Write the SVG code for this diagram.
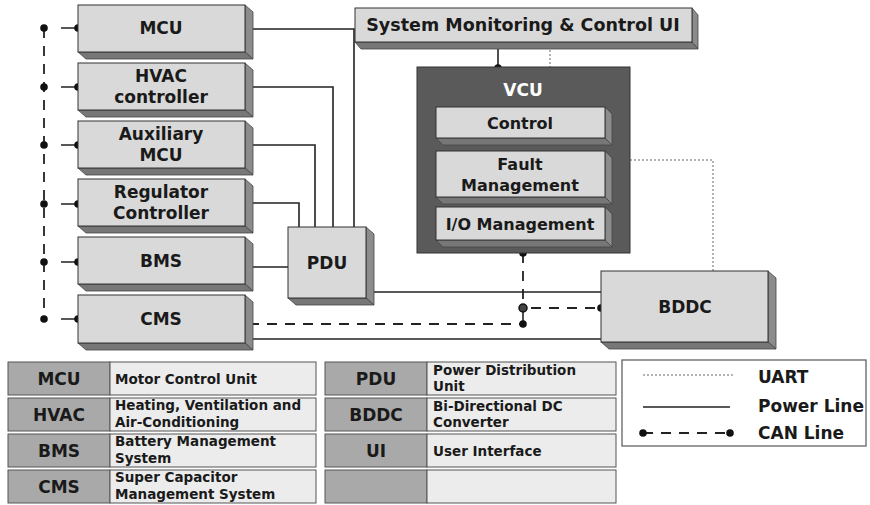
<svg xmlns="http://www.w3.org/2000/svg" width="870" height="505" viewBox="0 0 870 505">
<style>
text{font-family:"DejaVu Sans","Liberation Sans",sans-serif;font-weight:bold;fill:#1a1a1a;text-anchor:middle;dominant-baseline:central}
.face{fill:#d9d9d9;stroke:#333;stroke-width:1}
.side{fill:#8c8c8c;stroke:#444;stroke-width:0.8}
.bot{fill:#777;stroke:#444;stroke-width:0.8}
.lbl{font-size:17px}
.sm{font-size:13.5px;text-anchor:start}
.pw{fill:none;stroke:#222;stroke-width:1.6}
.can{fill:none;stroke:#222;stroke-width:1.8;stroke-dasharray:10 8}
.uart{fill:none;stroke:#999;stroke-width:1.5;stroke-dasharray:2 2}
.dot{fill:#111}
.ab{fill:#a9a9a9;stroke:#555;stroke-width:1}
.ds{fill:#ececec;stroke:#555;stroke-width:1}
</style>
<rect width="870" height="505" fill="#fff"/>

<g id="connectors">
  <!-- power lines -->
  <path class="pw" d="M253,29 H354 V227"/>
  <path class="pw" d="M253,87 H333 V227"/>
  <path class="pw" d="M253,145 H315 V227"/>
  <path class="pw" d="M253,203 H299 V227"/>
  <path class="pw" d="M253,267 H288"/>
  <path class="pw" d="M374,292 H601"/>
  <path class="pw" d="M253,339 H601"/>
  <!-- CAN bus left -->
  <path class="can" d="M44,28 V319"/>
  <path class="pw" stroke-width="1.8" d="M61,28 H78 M61,87 H78 M61,145 H78 M61,204 H78 M61,262 H78 M61,319 H78"/>
  <g class="dot">
    <circle cx="44" cy="28" r="3.8"/><circle cx="78" cy="28" r="3.8"/>
    <circle cx="44" cy="87" r="3.8"/><circle cx="78" cy="87" r="3.8"/>
    <circle cx="44" cy="145" r="3.8"/><circle cx="78" cy="145" r="3.8"/>
    <circle cx="44" cy="204" r="3.8"/><circle cx="78" cy="204" r="3.8"/>
    <circle cx="44" cy="262" r="3.8"/><circle cx="78" cy="262" r="3.8"/>
    <circle cx="44" cy="319" r="3.8"/><circle cx="78" cy="319" r="3.8"/>
  </g>
  <!-- CAN UI-VCU -->
  <path class="pw" stroke-width="1.8" d="M498,42 V68"/>
  <circle class="dot" cx="498" cy="42" r="3.8"/>
  <circle class="dot" cx="498" cy="68" r="3.8"/>
  <!-- CAN VCU-BDDC-CMS -->
  <path class="can" d="M523,253 V308"/>
  <path class="can" d="M531,308 H601"/>
  <path class="pw" stroke-width="1.8" d="M523,308 V324"/>
  <path class="can" d="M249,324 H523"/>
  <circle class="dot" cx="523" cy="253" r="3.8"/>
  <circle cx="523" cy="308" r="4" fill="#444" stroke="#111" stroke-width="1.5"/>
  <circle class="dot" cx="601" cy="308" r="3.8"/>
  <circle class="dot" cx="523" cy="324" r="3.8"/>
  <circle class="dot" cx="249" cy="324" r="3.8"/>
  <!-- UART -->
  <path class="uart" d="M550,42 V67"/>
  <path class="uart" d="M630,160 H713 V271"/>
</g>

<g id="mcu">
  <polygon class="side" points="245,5 253,12 253,59 245,52"/>
  <polygon class="bot" points="78,52 245,52 253,59 86,59"/>
  <rect class="face" x="78" y="5" width="167" height="47"/>
  <text class="lbl" x="161" y="28">MCU</text>
</g>
<g id="hvac">
  <polygon class="side" points="245,63 253,70 253,117 245,110"/>
  <polygon class="bot" points="78,110 245,110 253,117 86,117"/>
  <rect class="face" x="78" y="63" width="167" height="47"/>
  <text class="lbl" x="161" y="76">HVAC</text>
  <text class="lbl" x="161" y="97">controller</text>
</g>
<g id="aux">
  <polygon class="side" points="245,121 253,128 253,175 245,168"/>
  <polygon class="bot" points="78,168 245,168 253,175 86,175"/>
  <rect class="face" x="78" y="121" width="167" height="47"/>
  <text class="lbl" x="161" y="134">Auxiliary</text>
  <text class="lbl" x="161" y="155">MCU</text>
</g>
<g id="reg">
  <polygon class="side" points="245,179 253,186 253,233 245,226"/>
  <polygon class="bot" points="78,226 245,226 253,233 86,233"/>
  <rect class="face" x="78" y="179" width="167" height="47"/>
  <text class="lbl" x="161" y="192">Regulator</text>
  <text class="lbl" x="161" y="213">Controller</text>
</g>
<g id="bms">
  <polygon class="side" points="245,237 253,244 253,291 245,284"/>
  <polygon class="bot" points="78,284 245,284 253,291 86,291"/>
  <rect class="face" x="78" y="237" width="167" height="47"/>
  <text class="lbl" x="161" y="261">BMS</text>
</g>
<g id="cms">
  <polygon class="side" points="245,295 253,302 253,350 245,343"/>
  <polygon class="bot" points="78,343 245,343 253,350 86,350"/>
  <rect class="face" x="78" y="295" width="167" height="48"/>
  <text class="lbl" x="161" y="319">CMS</text>
</g>

<g id="pdu">
  <polygon class="side" points="366,227 374,234 374,305 366,298"/>
  <polygon class="bot" points="288,298 366,298 374,305 296,305"/>
  <rect class="face" x="288" y="227" width="78" height="71"/>
  <text class="lbl" x="327" y="263">PDU</text>
</g>

<g id="ui">
  <polygon class="side" points="692,8 698,15 698,49 692,42"/>
  <polygon class="bot" points="355,42 692,42 698,49 361,49"/>
  <rect class="face" x="355" y="8" width="337" height="34"/>
  <text style="font-size:17.5px" x="523" y="25">System Monitoring &amp; Control UI</text>
</g>

<g id="vcu">
  <rect x="417" y="67" width="213" height="186" fill="#5a5a5a" stroke="#333"/>
  <text class="lbl" x="523" y="90" style="fill:#fff">VCU</text>
  <g id="control">
    <polygon class="side" points="605,107 612,114 612,145 605,138"/>
    <polygon class="bot" points="436,138 605,138 612,145 443,145"/>
    <rect class="face" x="436" y="107" width="169" height="31"/>
    <text style="font-size:16px" x="520" y="123">Control</text>
  </g>
  <g id="fault">
    <polygon class="side" points="605,151 612,158 612,204 605,197"/>
    <polygon class="bot" points="436,197 605,197 612,204 443,204"/>
    <rect class="face" x="436" y="151" width="169" height="46"/>
    <text style="font-size:16px" x="520" y="164">Fault</text>
    <text style="font-size:16px" x="520" y="185">Management</text>
  </g>
  <g id="io">
    <polygon class="side" points="605,207 612,214 612,247 605,240"/>
    <polygon class="bot" points="436,240 605,240 612,247 443,247"/>
    <rect class="face" x="436" y="207" width="169" height="33"/>
    <text style="font-size:16px" x="520" y="224">I/O Management</text>
  </g>
</g>

<g id="bddc">
  <polygon class="side" points="768,271 776,278 776,349 768,342"/>
  <polygon class="bot" points="601,342 768,342 776,349 609,349"/>
  <rect class="face" x="601" y="271" width="167" height="71"/>
  <text class="lbl" x="685" y="307">BDDC</text>
</g>

<g id="table-left">
  <rect class="ab" x="8" y="362" width="102" height="33"/><rect class="ds" x="110" y="362" width="206" height="33"/>
  <rect class="ab" x="8" y="398" width="102" height="33"/><rect class="ds" x="110" y="398" width="206" height="33"/>
  <rect class="ab" x="8" y="434" width="102" height="33"/><rect class="ds" x="110" y="434" width="206" height="33"/>
  <rect class="ab" x="8" y="470" width="102" height="33"/><rect class="ds" x="110" y="470" width="206" height="33"/>
  <text class="lbl" x="59" y="379">MCU</text>
  <text class="lbl" x="59" y="415">HVAC</text>
  <text class="lbl" x="59" y="451">BMS</text>
  <text class="lbl" x="59" y="487">CMS</text>
  <text class="sm" x="115" y="379">Motor Control Unit</text>
  <text class="sm" x="115" y="405">Heating, Ventilation and</text>
  <text class="sm" x="115" y="422">Air-Conditioning</text>
  <text class="sm" x="115" y="441">Battery Management</text>
  <text class="sm" x="115" y="458">System</text>
  <text class="sm" x="115" y="477">Super Capacitor</text>
  <text class="sm" x="115" y="494">Management System</text>
</g>

<g id="table-right">
  <rect class="ab" x="325" y="362" width="102" height="33"/><rect class="ds" x="427" y="362" width="189" height="33"/>
  <rect class="ab" x="325" y="398" width="102" height="33"/><rect class="ds" x="427" y="398" width="189" height="33"/>
  <rect class="ab" x="325" y="434" width="102" height="33"/><rect class="ds" x="427" y="434" width="189" height="33"/>
  <rect class="ab" x="325" y="470" width="102" height="33"/><rect class="ds" x="427" y="470" width="189" height="33"/>
  <text class="lbl" x="376" y="379">PDU</text>
  <text class="lbl" x="376" y="415">BDDC</text>
  <text class="lbl" x="376" y="451">UI</text>
  <text class="sm" x="433" y="370">Power Distribution</text>
  <text class="sm" x="433" y="386">Unit</text>
  <text class="sm" x="433" y="406">Bi-Directional DC</text>
  <text class="sm" x="433" y="422">Converter</text>
  <text class="sm" x="433" y="451">User Interface</text>
</g>

<g id="legend">
  <rect x="622" y="360" width="244" height="86" fill="#fff" stroke="#555" stroke-width="1.2"/>
  <path class="uart" d="M643,375 H733"/>
  <path class="pw" d="M643,407 H730"/>
  <path class="can" d="M643,433 H730" stroke-dasharray="0 12 10 8 10 8 10 8 10"/>
  <circle class="dot" cx="643" cy="433" r="3.8"/>
  <circle class="dot" cx="730" cy="433" r="3.8"/>
  <text class="lbl" style="text-anchor:start" x="758" y="377">UART</text>
  <text class="lbl" style="text-anchor:start" x="758" y="406">Power Line</text>
  <text class="lbl" style="text-anchor:start" x="758" y="433">CAN Line</text>
</g>
</svg>
